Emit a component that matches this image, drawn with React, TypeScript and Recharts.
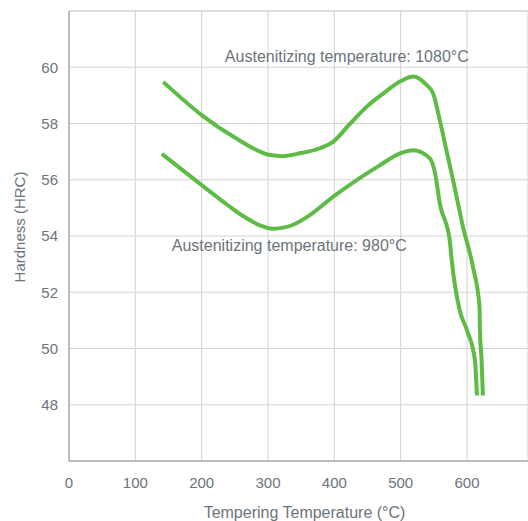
import {
  LineChart,
  Line,
  XAxis,
  YAxis,
  CartesianGrid,
  ReferenceLine,
  ReferenceDot,
} from "recharts";

// ─── Data ─────────────────────────────────────────────────────────────────────

const xTicks = [0, 100, 200, 300, 400, 500, 600];
const yTicks = [48, 50, 52, 54, 56, 58, 60];

// 1080°C austenitizing curve (tempering temp °C, hardness HRC)
const temp1080 = [142, 200, 250, 303, 322, 348, 378, 398, 424, 449, 474, 499, 519, 539, 549, 559, 569, 579, 594, 609, 619, 619.4, 622, 624];
const hrc1080 = [59.48, 58.3, 57.5, 56.88, 56.84, 56.94, 57.12, 57.35, 58.0, 58.6, 59.07, 59.49, 59.67, 59.37, 59.07, 58.12, 57.05, 55.99, 54.32, 52.9, 51.47, 50.76, 49.58, 48.33];

// 980°C austenitizing curve
const temp980 = [140, 200, 238, 263, 288, 308, 338, 363, 398, 469, 500, 519, 544, 552, 559, 574, 577, 589, 600, 612, 615];
const hrc980 = [56.92, 55.81, 55.12, 54.7, 54.38, 54.26, 54.4, 54.74, 55.39, 56.52, 56.95, 57.05, 56.76, 56.22, 55.16, 53.85, 53.14, 51.36, 50.65, 49.58, 48.33];

const series1080 = temp1080.map((t, i) => ({ t, hrc: hrc1080[i] }));
const series980 = temp980.map((t, i) => ({ t, hrc: hrc980[i] }));

// ─── Styles ───────────────────────────────────────────────────────────────────

const GREEN = "#5dbb46";
const TEXT = "#6b747c";
const GRID = "#d2d2d2";
const AXIS = "#bcbcbc";
const FONT = "'Liberation Sans', Arial, sans-serif";

const note = (text: string) => (props: any) => {
  const { viewBox } = props;
  return (
    <text
      x={viewBox.x}
      y={viewBox.y}
      fill={TEXT}
      fontSize={16}
      fontFamily={FONT}
      dominantBaseline="central"
    >
      {text}
    </text>
  );
};

export default function App() {
  return (
    <div style={{ position: "absolute", left: 0, top: 0, background: "#fff" }}>
      <LineChart
        width={528}
        height={521}
        margin={{ top: 11, right: 0, bottom: 0, left: 0 }}
      >
        <CartesianGrid stroke={GRID} strokeWidth={1} />
        <XAxis
          type="number"
          dataKey="t"
          domain={[0, 692]}
          ticks={xTicks}
          height={60}
          tickSize={0}
          tickMargin={16}
          axisLine={{ stroke: AXIS, strokeWidth: 2 }}
          tick={{ fill: TEXT, fontSize: 15, fontFamily: FONT }}
          allowDuplicatedCategory={false}
          label={{
            value: "Tempering Temperature (°C)",
            position: "insideBottom",
            offset: 3,
            dx: 6,
            fill: TEXT,
            fontSize: 16,
            fontFamily: FONT,
          }}
        />
        <YAxis
          type="number"
          dataKey="hrc"
          domain={[46, 62]}
          ticks={yTicks}
          width={69}
          tickSize={0}
          tickMargin={11}
          axisLine={{ stroke: AXIS, strokeWidth: 2 }}
          tick={{ fill: TEXT, fontSize: 15, fontFamily: FONT }}
          label={{
            value: "Hardness (HRC)",
            angle: -90,
            position: "insideLeft",
            offset: 20,
            dy: -9,
            fill: TEXT,
            fontSize: 15,
            fontFamily: FONT,
            style: { textAnchor: "middle" },
          }}
        />
        <ReferenceLine y={62} stroke={GRID} strokeWidth={1} />

        <ReferenceDot x={235} y={60.38} r={0} label={note("Austenitizing temperature: 1080°C")} />
        <ReferenceDot x={155} y={53.67} r={0} label={note("Austenitizing temperature: 980°C")} />

        <Line
          data={series1080}
          dataKey="hrc"
          type="monotoneX"
          stroke={GREEN}
          strokeWidth={4}
          dot={false}
          isAnimationActive={false}
        />
        <Line
          data={series980}
          dataKey="hrc"
          type="monotoneX"
          stroke={GREEN}
          strokeWidth={4}
          dot={false}
          isAnimationActive={false}
        />
      </LineChart>
    </div>
  );
}
